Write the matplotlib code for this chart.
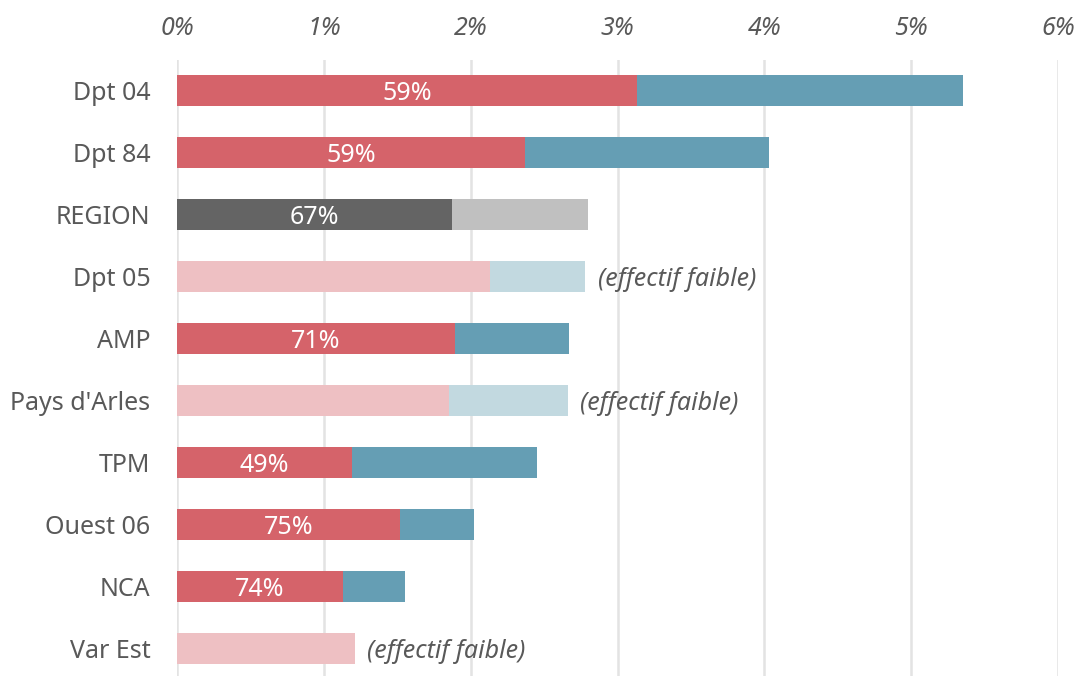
import matplotlib
matplotlib.use("Agg")
import matplotlib.pyplot as plt
from matplotlib.ticker import FuncFormatter

categories = ["Dpt 04", "Dpt 84", "REGION", "Dpt 05", "AMP", "Pays d'Arles",
              "TPM", "Ouest 06", "NCA", "Var Est"]
part1 = [3.13, 2.37, 1.87, 2.13, 1.89, 1.85, 1.19, 1.52, 1.13, 1.21]
total = [5.35, 4.03, 2.80, 2.78, 2.67, 2.66, 2.45, 2.02, 1.55, 1.21]
share_labels = ["59%", "59%", "67%", None, "71%", None, "49%", "75%", "74%", None]
low_sample = [False, False, False, True, False, True, False, False, False, True]
region_flag = [False, False, True, False, False, False, False, False, False, False]
xticks = [0, 1, 2, 3, 4, 5, 6]

RED, BLUE = "#D5636A", "#659EB4"
PINK, LBLUE = "#EEC0C3", "#C2D9E0"
DGREY, LGREY = "#646464", "#C0C0C0"
TXT = "#595959"

plt.rcParams["font.family"] = ["Noto Sans", "DejaVu Sans"]

fig = plt.figure(figsize=(10.77, 6.76), dpi=100)
ax = fig.add_axes([177/1077, 0.0, (1058-177)/1077, 1 - 60/676])

for i, cat in enumerate(categories):
    p = part1[i]
    rest = total[i] - p
    if region_flag[i]:
        c1, c2 = DGREY, LGREY
    elif low_sample[i]:
        c1, c2 = PINK, LBLUE
    else:
        c1, c2 = RED, BLUE
    ax.barh(i, p, height=0.5, color=c1, zorder=3)
    if rest > 0:
        ax.barh(i, rest, left=p, height=0.5, color=c2, zorder=3)
    if share_labels[i]:
        ax.text(p / 2, i, share_labels[i], ha="center", va="center_baseline",
                color="white", fontsize=18, zorder=4)
    if low_sample[i]:
        ax.annotate("(effectif faible)", xy=(total[i], i), xytext=(9, 0),
                    textcoords="offset points", ha="left", va="center_baseline",
                    color=TXT, fontsize=18, style="italic")

ax.set_xlim(0, 6)
ax.set_ylim(9.44, -0.5)
ax.set_xticks(xticks)
ax.xaxis.set_major_formatter(FuncFormatter(lambda v, _: f"{v:.0f}%"))
ax.xaxis.tick_top()
ax.tick_params(axis="x", length=0, pad=14, labelsize=18, labelcolor=TXT)
for lab in ax.get_xticklabels():
    lab.set_style("italic")
ax.set_yticks(range(len(categories)))
ax.set_yticklabels(categories, va="center_baseline")
ax.tick_params(axis="y", length=0, pad=19, labelsize=18, labelcolor=TXT)
ax.grid(axis="x", color="#E3E3E3", linewidth=1.8, zorder=0)
ax.set_axisbelow(True)
for s in ax.spines.values():
    s.set_visible(False)

fig.savefig("out.png", dpi=100)
